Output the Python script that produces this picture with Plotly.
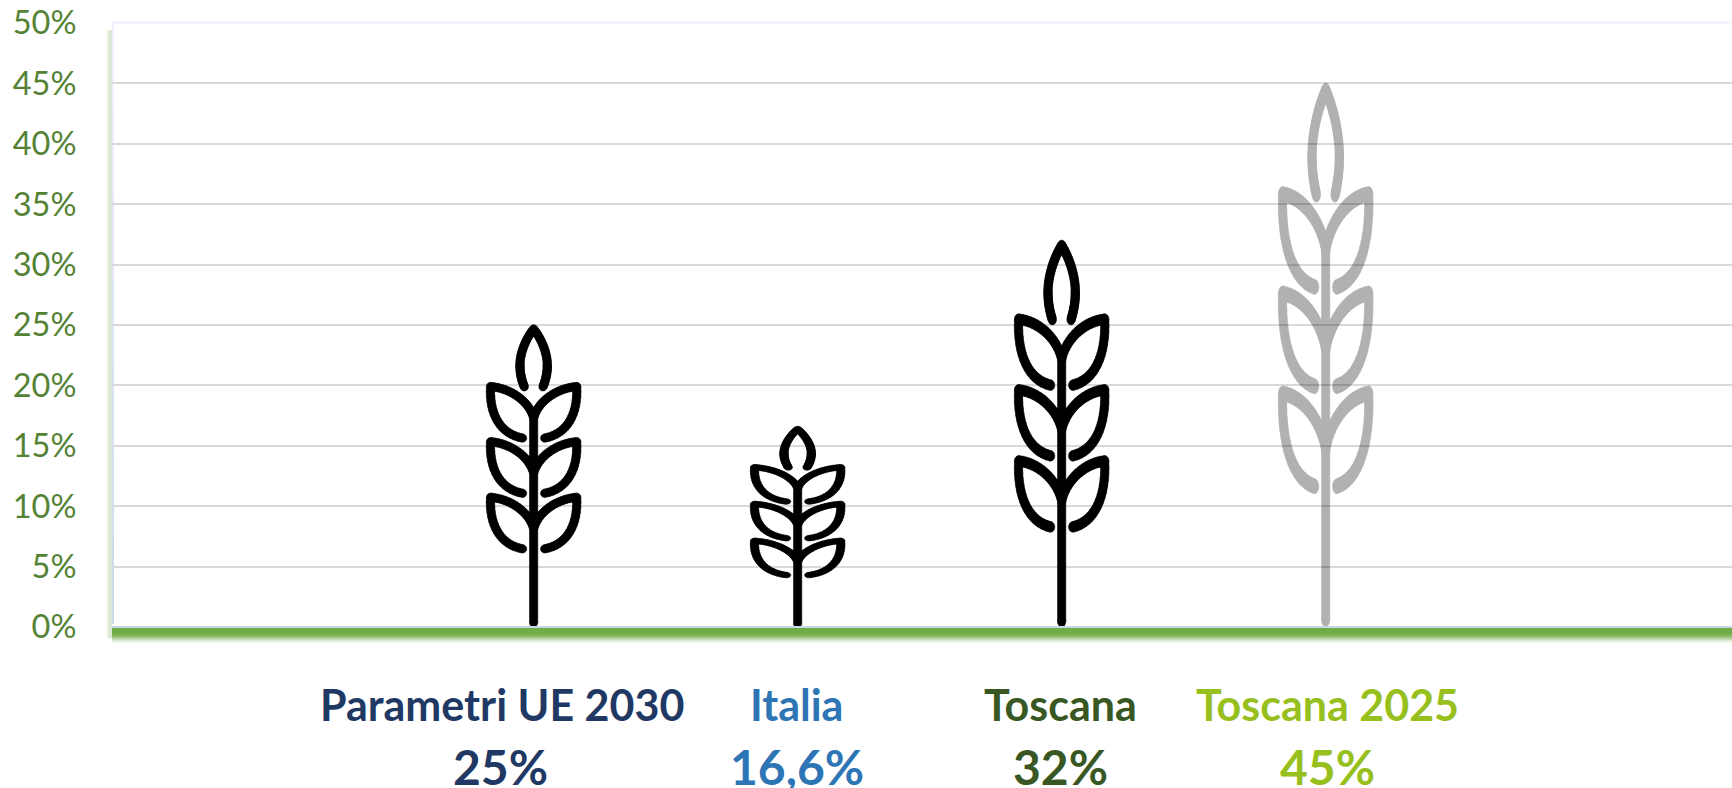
import math
import plotly.graph_objects as go

categories = ["Parametri UE 2030", "Italia", "Toscana", "Toscana 2025"]
values = [25, 16.6, 32, 45]
value_labels = ["25%", "16,6%", "32%", "45%"]
label_colors = ["#1F3864", "#2E75B6", "#385723", "#97BF1D"]
icon_opacity = [1, 1, 1, 0.3]
tick_values = [0, 5, 10, 15, 20, 25, 30, 35, 40, 45, 50]
tick_labels = [f"{v}%" for v in tick_values]
label_shift = [-32, -1, -1, 2]
value_shift = [-33, -1, -1, 2]

# wheat glyph template, in glyph units (x: 264*3 units per category step; y: 980 at foot, 72 at full height)
GLYPH_H = 908.0
GLYPH_X = 792.0
GLYPH_R = 12.5
STEM = [(0, 967.5), (0, 345)]
TOP_SEG = [[(0, 84), (25, 115), (42, 160), (41, 195)], [(41, 195), (41, 220), (35, 240), (28, 258)]]
LEAF_SEG = [[(0, 350), (15, 300), (70, 262), (129, 257)], [(129, 257), (134, 340), (100, 400), (33, 412)]]
LEAF_SHIFTS = [0, 166, 333]


def bez(p):
    out = []
    for i in range(17):
        t = i / 16
        a, b, c, d = (1 - t) ** 3, 3 * t * (1 - t) ** 2, 3 * t * t * (1 - t), t ** 3
        out.append((a * p[0][0] + b * p[1][0] + c * p[2][0] + d * p[3][0],
                    a * p[0][1] + b * p[1][1] + c * p[2][1] + d * p[3][1]))
    return out


def glyph_paths():
    paths = [list(STEM)]
    for sign in (1, -1):
        top = []
        for seg in TOP_SEG:
            top += bez(seg)
        paths.append([(sign * x, y) for x, y in top])
        for s in LEAF_SHIFTS:
            leaf = []
            for seg in LEAF_SEG:
                leaf += bez(seg)
            paths.append([(sign * x, y + s) for x, y in leaf])
    return paths


def stamp(paths, r):
    """Turn centre lines into same-handed polygons, so the stroke stretches with the glyph."""
    polys = []
    for path in paths:
        for (x0, y0), (x1, y1) in zip(path[:-1], path[1:]):
            dx, dy = x1 - x0, y1 - y0
            n = math.hypot(dx, dy)
            if n == 0:
                continue
            nx, ny = -dy / n * r, dx / n * r
            polys.append([(x0 + nx, y0 + ny), (x1 + nx, y1 + ny), (x1 - nx, y1 - ny), (x0 - nx, y0 - ny), (x0 + nx, y0 + ny)])
        for x, y in path:
            polys.append([(x + r * math.cos(-k * math.pi / 8), y + r * math.sin(-k * math.pi / 8)) for k in range(17)])
    return polys


POLYS = stamp(glyph_paths(), GLYPH_R)

fig = go.Figure()
for i, (name, val, op) in enumerate(zip(categories, values, icon_opacity)):
    xs, ys = [], []
    for poly in POLYS:
        for x, y in poly:
            xs.append(i + x / GLYPH_X)
            ys.append(val * (980 - y) / GLYPH_H)
        xs.append(None)
        ys.append(None)
    fig.add_trace(go.Scatter(x=xs, y=ys, mode="lines", fill="toself", fillcolor="#000000", name=name,
                             showlegend=False, hoverinfo="name", opacity=op,
                             line=dict(color="#000000", width=0.5, simplify=False)))

W, H = 1732, 788
L, T, B = 112, 23, 161
PH = H - T - B
PW = W - L


def py(px):
    return (H - B - px) / PH


def pxx(px):
    return (px - L) / PW


shapes = []
# floor band, one row per pixel
band = ["#70AD47", "#70AD47", "#70AD47", "#70AD47", "#71AE48", "#74AF4C", "#7AB254", "#83B760", "#90BE71", "#A0C887",
        "#B3D29E", "#C7DEB7", "#DAE9CF", "#EAF3E3", "#F5F9F2", "#FBFDF9"]
for k, c in enumerate(band):
    shapes.append(dict(type="rect", xref="paper", yref="paper", x0=pxx(112), x1=1.001,
                       y0=py(628 + k), y1=py(629 + k), fillcolor=c, line_width=0, layer="above"))
shapes.append(dict(type="rect", xref="paper", yref="paper", x0=pxx(112), x1=1.001, y0=py(626), y1=py(628),
                   fillcolor="#CBD6E8", line_width=0, layer="above"))
# soft shadow to the left of the wall and of the floor
wall = [("#F8FBF6", 106), ("#F0F6EB", 107), ("#E4EFDB", 108), ("#D9E8CD", 109), ("#D6E6CA", 110), ("#DDE9DF", 111)]
for c, x in wall:
    shapes.append(dict(type="rect", xref="paper", yref="paper", x0=pxx(x), x1=pxx(x + 1),
                       y0=py(638), y1=py(30), fillcolor=c, line_width=0, layer="below"))
# pale blue wall line, fading towards the top
wall_fade = ["#EEF1F9", "#E9EDF7", "#E4E9F5", "#DEE5F2", "#D9E1F0", "#D3DDEE", "#CED9EC"]
for k, c in enumerate(wall_fade):
    y0, y1 = 22 + k * 86, 22 + (k + 1) * 86
    shapes.append(dict(type="rect", xref="paper", yref="paper", x0=pxx(112), x1=pxx(114), y0=py(y1), y1=py(y0),
                       fillcolor=c, line_width=0, layer="below"))
# faint top edge
shapes.append(dict(type="rect", xref="paper", yref="paper", x0=pxx(112), x1=1.0, y0=py(24), y1=py(21),
                   fillcolor="#F4F4FA", line_width=0, layer="below"))
fig.update_layout(shapes=shapes)

annotations = []
for i in range(4):
    annotations.append(dict(x=i, y=0, xref="x", yref="paper", yshift=-77, yanchor="middle", xshift=label_shift[i],
                            text=f"<b>{categories[i]}</b>", showarrow=False,
                            font=dict(family="Lato", size=43, color=label_colors[i])))
    annotations.append(dict(x=i, y=0, xref="x", yref="paper", yshift=-139, yanchor="middle", xshift=value_shift[i],
                            text=f"<b>{value_labels[i]}</b>", showarrow=False,
                            font=dict(family="Lato", size=48, color=label_colors[i])))

fig.update_layout(
    width=W, height=H, autosize=False,
    margin=dict(l=L, r=0, t=T, b=B, pad=0),
    paper_bgcolor="#FFFFFF", plot_bgcolor="#FFFFFF",
    showlegend=False,
    annotations=annotations,
    xaxis=dict(range=[-1.597, 4.539], showgrid=False, zeroline=False, showticklabels=False, showline=False, ticks=""),
    yaxis=dict(range=[0, 50], tickmode="array", tickvals=tick_values, ticktext=tick_labels,
               showgrid=True, gridcolor="#D9D9D9", gridwidth=2, zeroline=False, showline=False,
               ticks="outside", ticklen=28, tickcolor="rgba(0,0,0,0)", tickwidth=1,
               tickfont=dict(family="Lato", size=32.5, color="#548235")),
)

fig.write_html("out.html", config={"displayModeBar": False}, post_script="document.body.style.margin='0';")
